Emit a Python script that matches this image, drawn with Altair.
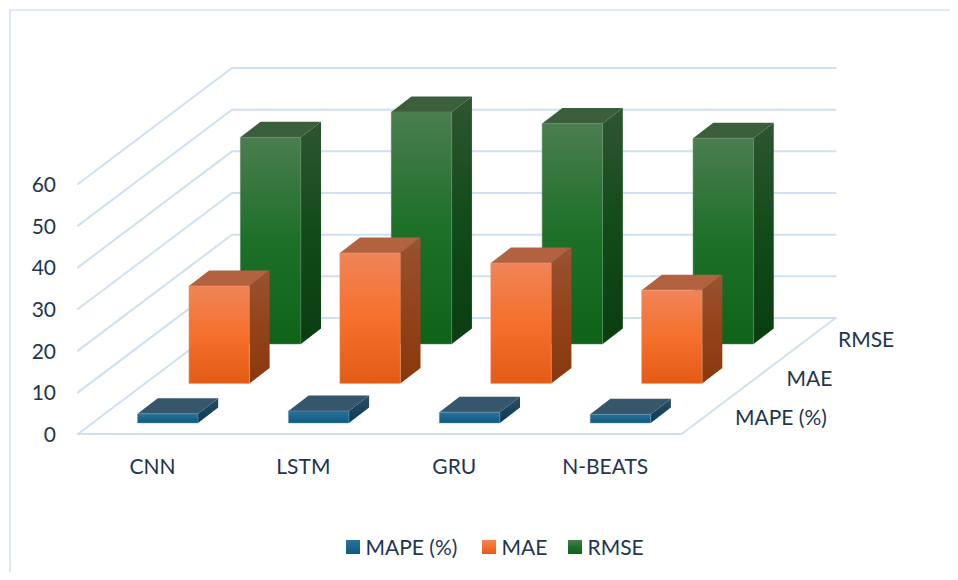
import altair as alt
import pandas as pd

categories = ["CNN", "LSTM", "GRU", "N-BEATS"]
series = ["MAPE (%)", "MAE", "RMSE"]
mape = [2.2, 2.9, 2.6, 2.1]
mae = [23.4, 31.3, 28.9, 22.4]
rmse = [49.6, 55.7, 52.9, 49.4]
value_ticks = [0, 10, 20, 30, 40, 50, 60]

# oblique projection: (category, depth, value) -> page pixels
X0, Y0 = 78, 434
CAT_W, DEPTH_X, DEPTH_Y, V_PX = 150.9, 154, 116, 250 / 60
BAR_DEPTH_X = 151
BAR_W = 60.5 / CAT_W
BAR_D = 15.5 / DEPTH_Y
SLOT0, SLOT = 11 / DEPTH_Y, 39.5 / DEPTH_Y


def px(c, d, depth_x=DEPTH_X):
    return X0 + c * CAT_W + d * depth_x


def py(d, v):
    return Y0 - d * DEPTH_Y - v * V_PX


XS = alt.Scale(domain=[8, 950], range=[0, 942], nice=False, zero=False)
YS = alt.Scale(domain=[572, 8], range=[564, 0], nice=False, zero=False)
ax = lambda f: alt.X(f, type="quantitative", scale=XS, axis=None)
ay = lambda f: alt.Y(f, type="quantitative", scale=YS, axis=None)


def grad(*cols):
    return alt.LinearGradient(
        gradient="linear",
        stops=[alt.GradientStop(offset=p, color=c) for p, c in cols],
        x1=0, y1=0, x2=0, y2=1,
    )


style = {
    "RMSE": dict(
        front=grad((0, "#4b7d50"), (0.5, "#1d7028"), (1, "#0f6319")),
        side=grad((0, "#2f5530"), (0.5, "#124b19"), (1, "#0a3d10")),
        top="#3a5f3a", edge="#5d8a63"),
    "MAE": dict(
        front=grad((0, "#f08458"), (0.5, "#f5702c"), (1, "#e35c16")),
        side=grad((0, "#9a5232"), (0.5, "#93431a"), (1, "#89380e")),
        top="#b2623f", edge="#f59a72"),
    "MAPE (%)": dict(
        front=grad((0, "#2c7096"), (1, "#0c5b82")),
        side=grad((0, "#2b4e63"), (1, "#0b3a55")),
        top="#35566b", edge="#6a9ab5"),
}
values = {"MAPE (%)": mape, "MAE": mae, "RMSE": rmse}

layers = []

# frame
frame = pd.DataFrame({"x": [10, 10, 950], "y": [572, 10, 10], "o": [0, 1, 2]})
layers.append(alt.Chart(frame).mark_line(color="#d3e3f4", strokeWidth=1.6).encode(
    x=ax("x"), y=ay("y"), order="o:Q"))

# walls and floor
rows = []
for t in value_ticks:
    for o, (c, d) in enumerate([(0, 0), (0, 1), (4, 1)]):
        rows.append(dict(k=f"v{t}", o=o, x=px(c, d), y=py(d, t)))
for o, (c, d) in enumerate([(0, 0), (4, 0), (4, 1)]):
    rows.append(dict(k="floor", o=o, x=px(c, d), y=py(d, 0)))
layers.append(alt.Chart(pd.DataFrame(rows)).mark_line(
    color="#cfe0f3", strokeWidth=2, strokeCap="round", strokeJoin="miter").encode(
    x=ax("x"), y=ay("y"), detail="k:N", order="o:Q"))

# bars, back to front
for si in [2, 1, 0]:
    name = series[si]
    st = style[name]
    d0 = SLOT0 + si * SLOT
    d1 = d0 + BAR_D
    front, side, top = [], [], []
    for ci, v in enumerate(values[name]):
        l = ci + (1 - BAR_W) / 2
        r = l + BAR_W
        fl, fr = px(l, d0, BAR_DEPTH_X), px(r, d0, BAR_DEPTH_X)
        bl, br = px(l, d1, BAR_DEPTH_X), px(r, d1, BAR_DEPTH_X)
        front.append(dict(x=fl, x2=fr, y=py(d0, v), y2=py(d0, 0)))
        side.append(dict(k=ci, x=fr, y=py(d0, v), y2=py(d0, 0)))
        side.append(dict(k=ci, x=br, y=py(d1, v), y2=py(d1, 0)))
        top.append(dict(k=ci, y=py(d0, v), x=fl, x2=fr))
        top.append(dict(k=ci, y=py(d1, v), x=bl, x2=br))
    layers.append(alt.Chart(pd.DataFrame(side)).mark_area(
        orient="vertical", color=st["side"]).encode(
        x=ax("x"), y=ay("y"), y2="y2:Q", detail="k:N"))
    layers.append(alt.Chart(pd.DataFrame(top)).mark_area(
        orient="horizontal", color=st["top"]).encode(
        y=ay("y"), x=ax("x"), x2="x2:Q", detail="k:N"))
    layers.append(alt.Chart(pd.DataFrame(front)).mark_rect(
        color=st["front"], stroke=st["edge"], strokeWidth=0.5).encode(
        x=ax("x"), x2="x2:Q", y=ay("y"), y2="y2:Q"))

FONT = "Lato"
INK = "#1f3550"
SIZE = 21


def text(df, align, size=SIZE):
    return alt.Chart(df).mark_text(
        font=FONT, fontSize=size, color=INK, align=align, baseline="middle").encode(
        x=ax("x"), y=ay("y"), text="t:N")


layers.append(text(pd.DataFrame(
    [dict(t=str(v), x=56, y=py(0, v) + 2) for v in value_ticks]), "right"))
layers.append(text(pd.DataFrame(
    [dict(t=c, x=px(i + 0.5, 0) - 1, y=468) for i, c in enumerate(categories)]), "center"))
layers.append(text(pd.DataFrame(
    [dict(t=s, x=735 + i * 51.5, y=419 - i * 39) for i, s in enumerate(series)]), "left"))

# legend
leg_x = [346, 482, 568]
for name, lx in zip(series, leg_x):
    layers.append(alt.Chart(pd.DataFrame([dict(x=lx, x2=lx + 14, y=540, y2=554)])).mark_rect(
        color=style[name]["front"]).encode(x=ax("x"), x2="x2:Q", y=ay("y"), y2="y2:Q"))
    layers.append(text(pd.DataFrame([dict(t=name, x=lx + 19.5, y=549)]), "left"))

chart = alt.layer(*layers).properties(
    width=942, height=564, padding=0,
    autosize=alt.AutoSizeParams(type="none"),
    background="white",
).configure_view(stroke=None)

chart.save("out.html", embed_options={"renderer": "svg", "actions": False})
